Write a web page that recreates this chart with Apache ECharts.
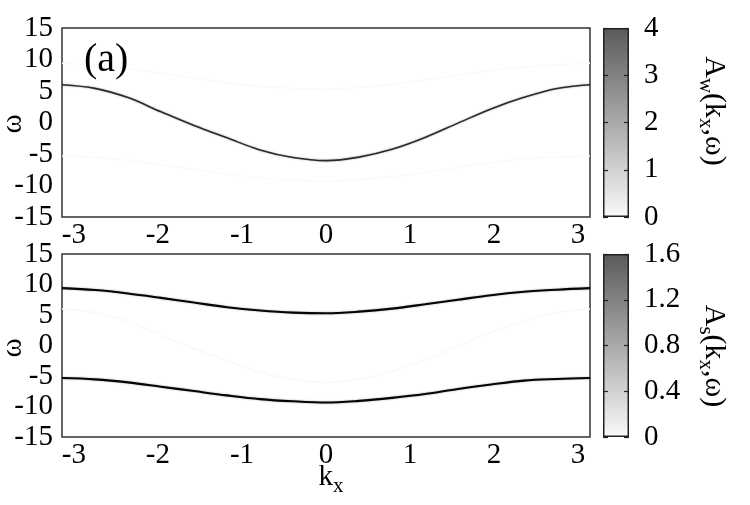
<!DOCTYPE html>
<html>
<head>
<meta charset="utf-8">
<script src="https://cdn.jsdelivr.net/npm/echarts@6/dist/echarts.min.js"></script>
<style>html,body{margin:0;padding:0;background:#fff;}#c{width:750px;height:505px;}</style>
</head>
<body>
<div id="c"></div>
<script>
// ---- data ----
const xTicks = [-3, -2, -1, 0, 1, 2, 3];
// k_x sample points (steps of pi/8 from -pi to pi)
const kx = [-3.1416, -2.7489, -2.3562, -1.9635, -1.5708, -1.1781, -0.7854, -0.3927, 0,
            0.3927, 0.7854, 1.1781, 1.5708, 1.9635, 2.3562, 2.7489, 3.1416];
// panel (a) top: single band of A_w
const wTop   = [6.0, 5.42, 3.95, 1.7, -0.48, -2.44, -4.35, -5.56, -6.05,
                -5.49, -4.26, -2.38, -0.1, 2.16, 4.0, 5.41, 6.0];
// bottom panel: the two bands of A_s
const wUpper = [9.4, 9.09, 8.53, 7.81, 7.04, 6.28, 5.74, 5.39, 5.28,
                5.55, 6.05, 6.75, 7.5, 8.25, 8.8, 9.15, 9.4];
const wLower = [-5.34, -5.55, -6.04, -6.75, -7.47, -8.18, -8.79, -9.15, -9.35,
                -9.08, -8.59, -7.96, -7.12, -6.39, -5.76, -5.5, -5.34];
// colour bars
const cbTopMax = 4, cbTopStep = 1;
const cbBotMax = 1.6, cbBotStep = 0.4;

const FONT = '"Liberation Serif", "Times New Roman", serif';
const pairs = (xs, ys) => xs.map((x, i) => [x, ys[i]]);

const cv = document.createElement('canvas').getContext('2d');
function measure(t, size) { cv.font = size + 'px ' + FONT; return cv.measureText(t).width; }
function label(parts, cx, cy, rotation) {
  const ws = parts.map(p => measure(p[0], p[1]));
  const total = ws.reduce((a, b) => a + b, 0);
  let x = -total / 2;
  const children = parts.map((p, i) => {
    const c = { type: 'text', x: x, y: p[2], style: { text: p[0], fontSize: p[1], fontFamily: FONT, fill: '#000', textAlign: 'left', verticalAlign: 'middle', textVerticalAlign: 'middle' } };
    x += ws[i];
    return c;
  });
  return { type: 'group', x: cx, y: cy, rotation: rotation, children: children };
}

const chart = echarts.init(document.getElementById('c'));
const axisLab = { fontFamily: FONT, fontSize: 29, color: '#000' };
function mainX(g) {
  return { gridIndex: g, type: 'value', min: -Math.PI, max: Math.PI,
    axisLine: { show: false }, axisTick: { show: false }, splitLine: { show: false },
    axisLabel: Object.assign({ customValues: xTicks, margin: 4, formatter: v => String(Math.round(v)) }, axisLab) };
}
function mainY(g) {
  return { gridIndex: g, type: 'value', min: -15, max: 15, interval: 5,
    axisLine: { show: false }, axisTick: { show: false }, splitLine: { show: false },
    axisLabel: Object.assign({ margin: 9 }, axisLab) };
}
function cbY(g, max, step, pos, showLabel, fmt) {
  return { gridIndex: g, type: 'value', min: 0, max: max, interval: step, position: pos,
    axisLine: { show: false }, splitLine: { show: false },
    axisTick: { show: true, inside: true, length: 5, lineStyle: { color: '#222', width: 1.2 } },
    axisLabel: Object.assign({ show: showLabel, margin: 15, formatter: fmt }, axisLab) };
}
const grad = new echarts.graphic.LinearGradient(0, 0, 0, 1, [{ offset: 0, color: '#5a5a5a' }, { offset: 1, color: '#f9f9f9' }]);
function line(xi, data, color, width, blur) {
  return { type: 'line', xAxisIndex: xi, yAxisIndex: xi, data: data, symbol: 'none', smooth: 0.35, silent: true, clip: true,
    lineStyle: { color: color, width: width, shadowBlur: blur, shadowColor: blur ? 'rgba(0,0,0,0.35)' : 'transparent' } };
}

chart.setOption({
  animation: false,
  backgroundColor: '#fff',
  grid: [
    { left: 62, top: 28, width: 528, height: 189, show: true, borderColor: '#333', borderWidth: 1.5, backgroundColor: '#fff' },
    { left: 62, top: 254, width: 528, height: 183, show: true, borderColor: '#333', borderWidth: 1.5, backgroundColor: '#fff' },
    { left: 603, top: 28, width: 26, height: 189 },
    { left: 603, top: 254, width: 26, height: 183 }
  ],
  xAxis: [mainX(0), mainX(1),
    { gridIndex: 2, type: 'category', data: ['c'], show: false },
    { gridIndex: 3, type: 'category', data: ['c'], show: false }],
  yAxis: [mainY(0), mainY(1),
    cbY(2, cbTopMax, cbTopStep, 'right', true, v => String(Math.round(v))),
    cbY(2, cbTopMax, cbTopStep, 'left', false),
    cbY(3, cbBotMax, cbBotStep, 'right', true, v => (Math.abs(v) < 1e-9 ? '0' : v.toFixed(1))),
    cbY(3, cbBotMax, cbBotStep, 'left', false)],
  series: [
    line(0, pairs(kx, wUpper), '#fafafa', 1.5, 0),
    line(0, pairs(kx, wLower), '#fafafa', 1.5, 0),
    line(0, pairs(kx, wTop), '#2a2a2a', 1.6, 2),
    line(1, pairs(kx, wTop), '#f8f8f8', 1.5, 0),
    line(1, pairs(kx, wUpper), '#050505', 2.1, 2),
    line(1, pairs(kx, wLower), '#050505', 2.1, 2),
    { type: 'bar', xAxisIndex: 2, yAxisIndex: 2, data: [cbTopMax], barWidth: '100%', z: -1, silent: true,
      itemStyle: { color: grad, borderColor: '#222', borderWidth: 1.5 } },
    { type: 'bar', xAxisIndex: 3, yAxisIndex: 4, data: [cbBotMax], barWidth: '100%', z: -1, silent: true,
      itemStyle: { color: grad, borderColor: '#222', borderWidth: 1.5 } }
  ],
  graphic: [
    { type: 'text', x: 84, y: 60, z: 10, style: { text: '(a)', fontSize: 40, fontFamily: FONT, fill: '#000', textAlign: 'left', verticalAlign: 'middle', textVerticalAlign: 'middle' } },
    label([['ω', 29, 0]], 13, 124, Math.PI / 2),
    label([['ω', 29, 0]], 13, 348, Math.PI / 2),
    label([['k', 29, 0], ['x', 21, 9]], 331, 477, 0),
    label([['A', 30, 0], ['w', 21, 8], ['(k', 30, 0], ['x', 21, 8], [',ω)', 30, 0]], 714, 111, -Math.PI / 2),
    label([['A', 30, 0], ['s', 21, 8], ['(k', 30, 0], ['x', 21, 8], [',ω)', 30, 0]], 714, 356, -Math.PI / 2)
  ]
});
</script>
</body>
</html>
